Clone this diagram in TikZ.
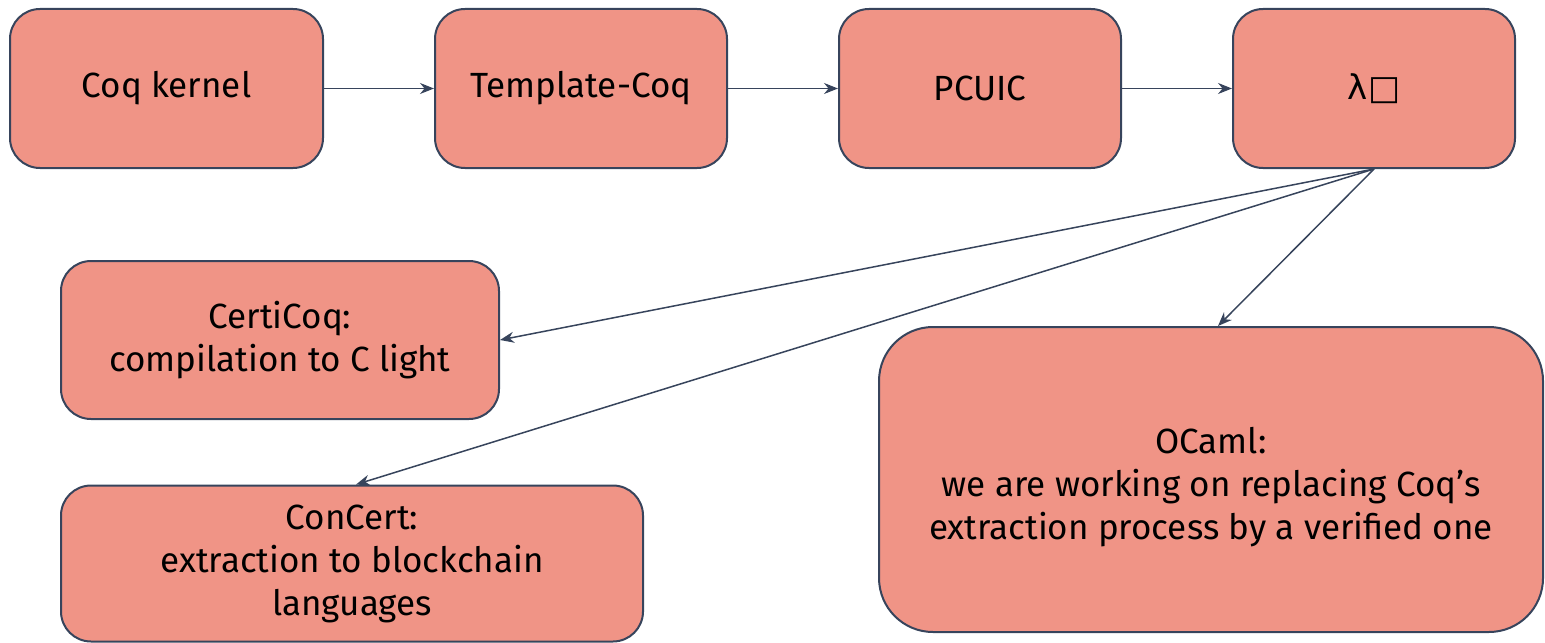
\documentclass[tikz,border=0pt]{standalone}
\usepackage{fontspec}
\setmainfont{Fira Sans}
\newfontfamily\symfont{DejaVu Sans}
\usetikzlibrary{arrows.meta}
\definecolor{boxfill}{RGB}{240,148,134}
\definecolor{boxline}{RGB}{55,68,92}

\begin{document}
\begin{tikzpicture}[
    x=0.5pt, y=-0.5pt,
    stage/.style = {draw=boxline,
                    fill=boxfill,
                    line width=1pt,
                    rounded corners=15pt,
                    align=center,
                    inner sep=0pt,
                    font=\fontsize{17.5}{21.5}\selectfont},
    arr/.style   = {draw=boxline,
                    line width=0.75pt,
                    -{Stealth[length=7pt,width=5.5pt]}}
]
\useasboundingbox (0,0) rectangle (1545,642);
% top row
\node (kernel) [stage, minimum width=156.5pt, minimum height=79.5pt] at (166.5,88.5) {Coq kernel};
\node (tcoq)   [stage, minimum width=146pt, minimum height=79.5pt] at (581,88.5) {Template-Coq};
\node (pcuic)  [stage, minimum width=141pt, minimum height=79.5pt] at (980,88.5) {PCUIC};
\node (lbox)   [stage, minimum width=141pt, minimum height=79.5pt] at (1374,88.5) {\symfont\fontsize{17}{19}\selectfont λ□};
\draw[arr] (kernel) -- (tcoq);
\draw[arr] (tcoq) -- (pcuic);
\draw[arr] (pcuic) -- (lbox);
% targets
\node (certicoq) [stage, minimum width=219pt, minimum height=79pt] at (280,340)
    {CertiCoq:\\compilation to C light};
\node (concert)  [stage, minimum width=291pt, minimum height=78pt] at (352,563.5)
    {ConCert:\\extraction to blockchain\\languages};
\node (ocaml)    [stage, rounded corners=27pt, minimum width=332pt, minimum height=152.5pt] at (1211,479.5)
    {\rule{0pt}{21pt}OCaml:\\we are working on replacing Coq’s\\extraction process by a verified one};
\draw[arr] (lbox.south) -- (certicoq.east);
\draw[arr] (lbox.south) -- ([xshift=2pt]concert.north);
\draw[arr] (lbox.south) -- ([xshift=3.5pt]ocaml.north);
\end{tikzpicture}
\end{document}
